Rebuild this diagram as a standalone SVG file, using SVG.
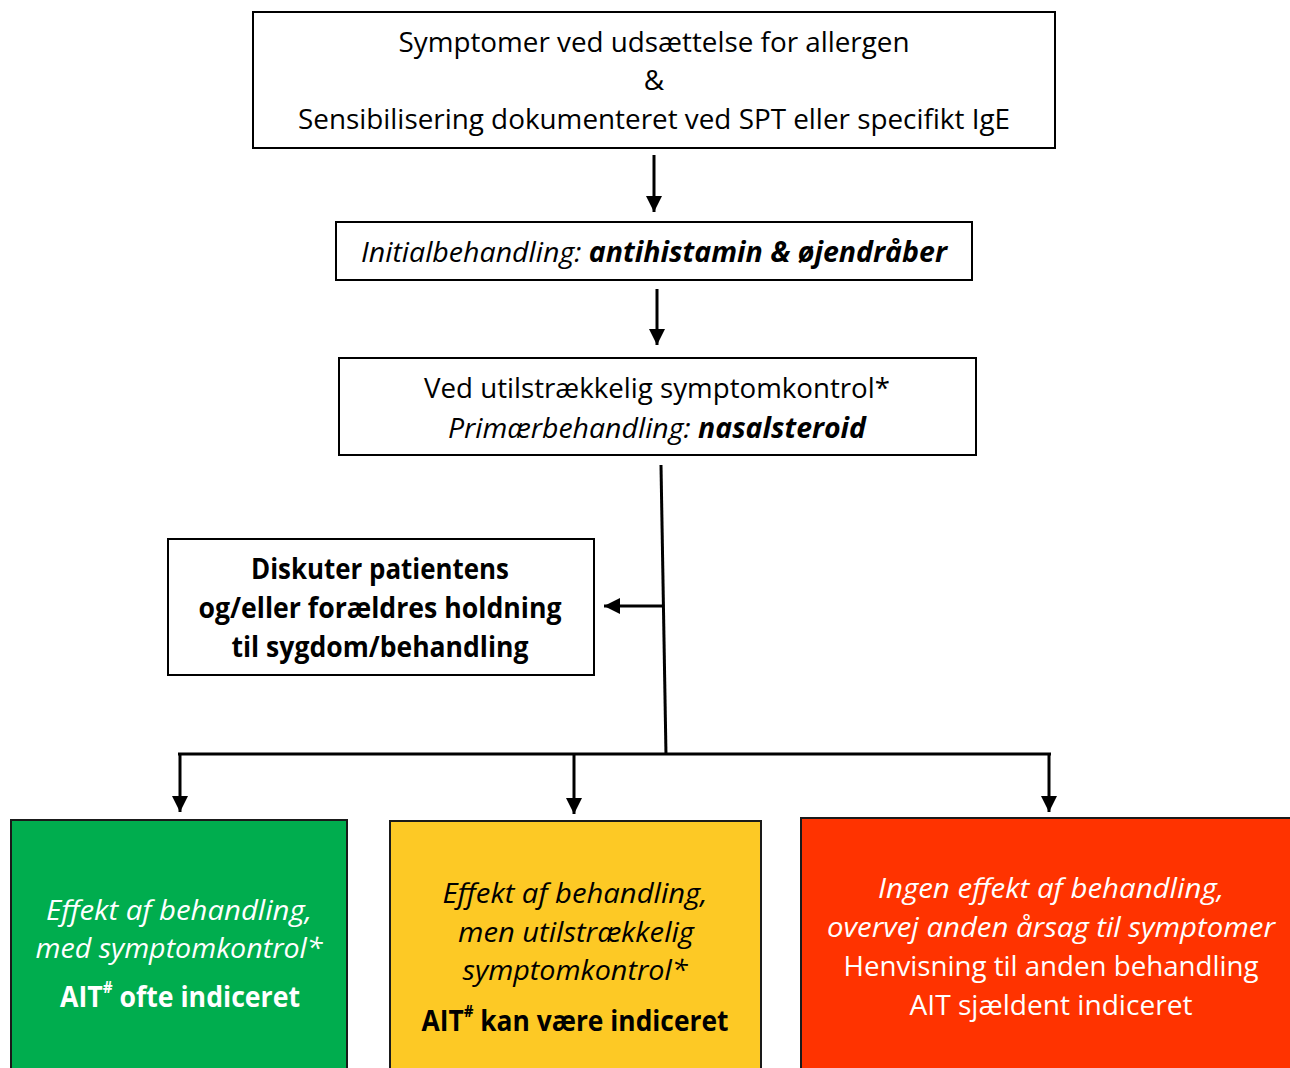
<svg xmlns="http://www.w3.org/2000/svg" width="1290" height="1068" viewBox="0 0 1290 1068">
<style>
.box{fill:#fff;stroke:#000;stroke-width:2}
.t{font-family:"Open Sans","Liberation Sans",sans-serif;font-size:28px;text-anchor:middle;fill:#000}
.w{fill:#fff}
.i{font-style:italic}
.b{font-weight:bold}
.c{stroke:#000;stroke-width:3;fill:none}
</style>
<defs>
<marker id="ah" markerUnits="userSpaceOnUse" markerWidth="18" markerHeight="18" refX="16" refY="9" orient="auto">
<path d="M0,1 L16,9 L0,17 z" fill="#000"/>
</marker>
</defs>
<rect width="1290" height="1068" fill="#fff"/>
<g id="connectors">
<line class="c" x1="654" y1="155" x2="654" y2="212" marker-end="url(#ah)"/>
<line class="c" x1="657" y1="289" x2="657" y2="345" marker-end="url(#ah)"/>
<line class="c" x1="661" y1="465" x2="666" y2="755"/>
<line class="c" x1="662" y1="606" x2="604" y2="606" marker-end="url(#ah)"/>
<line class="c" x1="178" y1="754" x2="1051" y2="754"/>
<line class="c" x1="180" y1="754" x2="180" y2="812" marker-end="url(#ah)"/>
<line class="c" x1="574" y1="754" x2="574" y2="814" marker-end="url(#ah)"/>
<line class="c" x1="1049" y1="754" x2="1049" y2="812" marker-end="url(#ah)"/>
</g>
<g id="node1">
<rect class="box" x="253" y="12" width="802" height="136"/>
<text class="t" x="654" y="52" textLength="511" lengthAdjust="spacingAndGlyphs">Symptomer ved udsættelse for allergen</text>
<text class="t" x="654" y="90">&amp;</text>
<text class="t" x="654" y="129" textLength="712" lengthAdjust="spacingAndGlyphs">Sensibilisering dokumenteret ved SPT eller specifikt IgE</text>
</g>
<g id="node2">
<rect class="box" x="336" y="222" width="636" height="58"/>
<text class="t" x="654" y="262" textLength="586" lengthAdjust="spacingAndGlyphs"><tspan class="i">Initialbehandling: </tspan><tspan class="i b">antihistamin &amp; øjendråber</tspan></text>
</g>
<g id="node3">
<rect class="box" x="339" y="358" width="637" height="97"/>
<text class="t" x="657" y="398" textLength="466" lengthAdjust="spacingAndGlyphs">Ved utilstrækkelig symptomkontrol*</text>
<text class="t" x="657" y="438" textLength="418" lengthAdjust="spacingAndGlyphs"><tspan class="i">Primærbehandling: </tspan><tspan class="i b">nasalsteroid</tspan></text>
</g>
<g id="node4">
<rect class="box" x="168" y="539" width="426" height="136"/>
<text class="t b" x="380" y="579" textLength="258" lengthAdjust="spacingAndGlyphs">Diskuter patientens</text>
<text class="t b" x="380" y="618" textLength="363" lengthAdjust="spacingAndGlyphs">og/eller forældres holdning</text>
<text class="t b" x="380" y="657" textLength="297" lengthAdjust="spacingAndGlyphs">til sygdom/behandling</text>
</g>
<g id="node5">
<rect x="11" y="820" width="336" height="250" fill="#00AD4E" stroke="#1a1a1a" stroke-width="2"/>
<text class="t w i" x="179" y="920" textLength="266" lengthAdjust="spacingAndGlyphs">Effekt af behandling,</text>
<text class="t w i" x="179" y="958" textLength="287" lengthAdjust="spacingAndGlyphs">med symptomkontrol*</text>
<text class="t w b" x="180" y="1007" textLength="240" lengthAdjust="spacingAndGlyphs">AIT<tspan font-size="16" dy="-14">#</tspan><tspan dy="14"> ofte indiceret</tspan></text>
</g>
<g id="node6">
<rect x="390" y="821" width="371" height="249" fill="#FDC925" stroke="#1a1a1a" stroke-width="2"/>
<text class="t i" x="575" y="903" textLength="265" lengthAdjust="spacingAndGlyphs">Effekt af behandling,</text>
<text class="t i" x="576" y="942" textLength="236" lengthAdjust="spacingAndGlyphs">men utilstrækkelig</text>
<text class="t i" x="575" y="980" textLength="225" lengthAdjust="spacingAndGlyphs">symptomkontrol*</text>
<text class="t b" x="575" y="1031" textLength="307" lengthAdjust="spacingAndGlyphs">AIT<tspan font-size="16" dy="-14">#</tspan><tspan dy="14"> kan være indiceret</tspan></text>
</g>
<g id="node7">
<rect x="801" y="818" width="492" height="252" fill="#FF3300" stroke="#1a1a1a" stroke-width="2"/>
<text class="t w i" x="1051" y="898" textLength="346" lengthAdjust="spacingAndGlyphs">Ingen effekt af behandling,</text>
<text class="t w i" x="1051" y="937" textLength="448" lengthAdjust="spacingAndGlyphs">overvej anden årsag til symptomer</text>
<text class="t w" x="1051" y="976" textLength="415" lengthAdjust="spacingAndGlyphs">Henvisning til anden behandling</text>
<text class="t w" x="1051" y="1015" textLength="283" lengthAdjust="spacingAndGlyphs">AIT sjældent indiceret</text>
</g>
</svg>
